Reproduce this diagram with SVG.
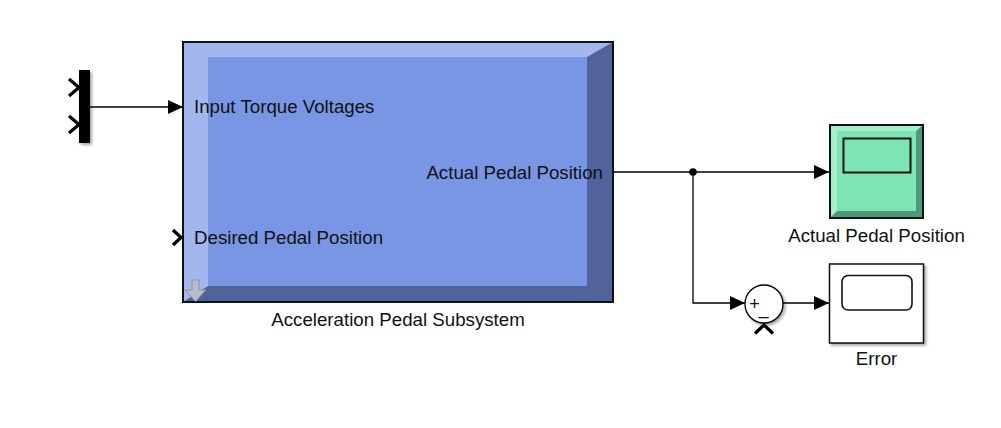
<svg xmlns="http://www.w3.org/2000/svg" width="1001" height="428" viewBox="0 0 1001 428">
<defs>
<style>
text{font-family:"Liberation Sans",Arial,sans-serif;font-size:18.7px;fill:#111}
.ln{stroke:#000;stroke-width:1.3;fill:none}
.chev{stroke:#000;stroke-width:3.2;fill:none;stroke-linejoin:miter}
</style>
<marker id="ah" markerWidth="15" markerHeight="14" refX="15" refY="7" orient="auto" markerUnits="userSpaceOnUse">
<path d="M0,0 L15,7 L0,14 Z" fill="#000"/>
</marker>
<filter id="sh" x="-20%" y="-20%" width="150%" height="150%">
<feGaussianBlur in="SourceAlpha" stdDeviation="1.5"/>
<feOffset dx="2" dy="2" result="b"/>
<feComponentTransfer><feFuncA type="linear" slope="0.35"/></feComponentTransfer>
<feMerge><feMergeNode/><feMergeNode in="SourceGraphic"/></feMerge>
</filter>
</defs>
<rect width="1001" height="428" fill="#fff"/>

<g id="connectors">
<path class="ln" d="M90,107 L183,107" marker-end="url(#ah)"/>
<path class="ln" d="M613,172 L829,172" marker-end="url(#ah)"/>
<path class="ln" d="M693,172 L693,303 L745,303" marker-end="url(#ah)"/>
<path class="ln" d="M783,303 L829,303" marker-end="url(#ah)"/>
<circle cx="693" cy="172" r="3.8" fill="#000"/>
</g>

<g id="mux">
<rect x="79" y="70" width="11" height="73" fill="#000" filter="url(#sh)"/>
<path class="chev" d="M69,79 L79,87.5 L69,96"/>
<path class="chev" d="M69,116 L79,124.5 L69,133"/>
</g>

<g id="subsystem">
<rect x="183" y="42" width="430" height="260" fill="#52629b"/>
<polygon points="183,42 613,42 587,57 208,57 208,286 183,302" fill="#a4b6ee"/>
<rect x="208" y="57" width="379" height="229" fill="#7896e4"/>
<rect x="183" y="42" width="430" height="260" fill="none" stroke="#111" stroke-width="2"/>
<path d="M192,280 h7 v10 h7 l-10.5,11.5 l-10.5,-11.5 h7 z" fill="#b6bccb" stroke="#8a90a0" stroke-width="1"/>
<path class="chev" d="M173,230 L181,237.5 L173,245"/>
<text x="194" y="113">Input Torque Voltages</text>
<text x="194" y="244">Desired Pedal Position</text>
<text x="603" y="179" text-anchor="end">Actual Pedal Position</text>
<text x="398" y="326" text-anchor="middle">Acceleration Pedal Subsystem</text>
</g>

<g id="scope_actual">
<rect x="830" y="125" width="93" height="93" fill="#4e9a78"/>
<polygon points="830,125 923,125 916,131 837,131 837,211 830,218" fill="#a6efcd"/>
<rect x="837" y="131" width="79" height="80" fill="#7de4b3"/>
<rect x="830" y="125" width="93" height="93" fill="none" stroke="#111" stroke-width="2"/>
<rect x="843.5" y="138.5" width="67" height="34" fill="none" stroke="#111" stroke-width="2"/>
<text x="876.5" y="242" text-anchor="middle">Actual Pedal Position</text>
</g>

<g id="sum">
<circle cx="764" cy="304" r="19" fill="#fff" stroke="#000" stroke-width="1.3" filter="url(#sh)"/>
<text x="754.5" y="309.5" text-anchor="middle" style="font-size:18px">+</text>
<text x="763.5" y="314" text-anchor="middle" style="font-size:18px">_</text>
<path class="chev" d="M755,333.5 L764,325 L773,333.5"/>
</g>

<g id="scope_error">
<rect x="829.5" y="264" width="94" height="79" fill="#fff" stroke="#111" stroke-width="1.5" filter="url(#sh)"/>
<rect x="842" y="275.5" width="70" height="34.5" rx="6" fill="#fff" stroke="#111" stroke-width="1.6"/>
<text x="876.5" y="365" text-anchor="middle">Error</text>
</g>
</svg>
